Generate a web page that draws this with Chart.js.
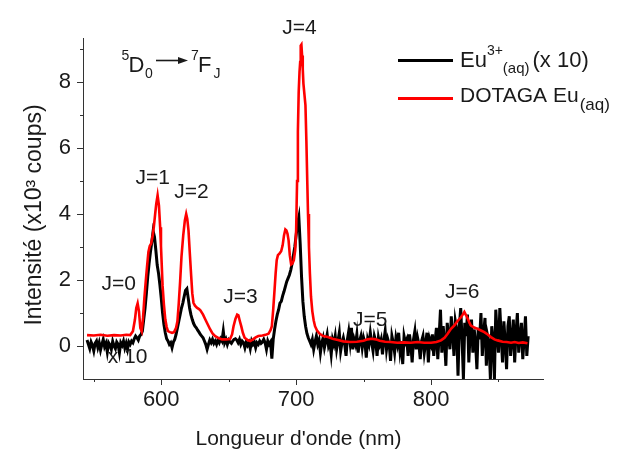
<!DOCTYPE html>
<html><head><meta charset="utf-8">
<script src="https://cdn.jsdelivr.net/npm/chart.js@4.4.1/dist/chart.umd.min.js"></script>
<style>html,body{margin:0;padding:0;background:#fff}canvas{display:block}</style>
</head><body>
<canvas id="c" width="622" height="450"></canvas>
<script>
// ---- data ----
const blackStart = 545;   // nm, first wavelength of Eu3+(aq) spectrum
const blackStep = 1;      // nm between samples
const blackValues = [
0.18,0.05,-0.08,0.12,0.02,-0.15,0.08,0.15,-0.05,0.1,
-0.12,0.05,0.2,-0.02,0.08,-0.18,0.1,0.03,-0.1,0.14,
0.0,-0.08,0.12,0.05,-0.2,0.1,0.02,0.15,-0.06,0.08,
-0.1,0.12,0.05,0.15,0.1,0.22,0.3,0.25,0.18,0.3,
0.35,0.45,0.8,1.15,1.6,2.1,2.5,2.85,3.15,3.48,
3.3,2.9,2.45,2.2,1.85,1.45,1.0,0.65,0.4,0.22,
0.15,0.05,0.1,-0.05,0.12,0.2,0.35,0.55,0.75,0.95,
1.15,1.3,1.5,1.68,1.73,1.45,1.15,0.95,0.8,0.68,
0.6,0.55,0.48,0.42,0.35,0.3,0.25,0.15,0.05,-0.1,
0.05,0.18,0.1,0.2,0.08,0.15,0.05,0.18,0.1,0.22,
0.15,0.45,0.1,0.2,0.05,0.18,0.12,0.08,0.15,0.2,
0.22,0.18,0.1,0.2,0.05,0.15,0.1,-0.05,0.12,0.02,
0.1,-0.08,0.15,0.05,0.12,-0.05,0.1,0.05,0.15,0.08,
0.12,0.2,0.1,-0.1,0.15,0.05,0.12,-0.38,0.2,0.5,
0.75,0.95,1.1,1.3,1.35,1.52,1.65,1.8,1.95,2.05,
2.15,2.3,2.5,2.75,3.0,3.35,3.7,3.9,3.1,2.1,
1.35,0.9,0.6,0.38,0.25,0.15,0.05,0.2,-0.1,0.12,
0.3,0.05,0.18,-0.2,0.1,0.25,-0.05,0.15,0.35,0.0,
0.12,-0.25,0.2,0.05,0.3,-0.1,0.15,0.4,-0.15,0.1,
0.25,0.05,-0.3,0.2,0.45,0.1,0.55,-0.1,0.2,0.05,
0.35,-0.2,0.15,0.3,-0.05,0.25,0.1,-0.35,0.2,0.05,
0.4,0.1,-0.15,0.3,0.15,-0.3,0.25,0.05,0.2,-0.25,
0.15,0.45,-0.1,0.2,0.05,-0.45,0.3,0.1,-0.2,0.25,
0.05,0.4,-0.15,0.15,-0.55,0.3,0.1,0.2,-0.3,0.35,
0.05,-0.5,0.2,0.45,-0.1,0.25,0.05,-0.4,0.15,0.3,
-0.2,0.1,0.4,-0.5,0.2,0.05,0.35,-0.3,0.15,0.55,
-0.4,0.3,1.1,-0.2,0.6,0.15,-0.6,0.7,0.3,-0.1,
0.9,0.4,-0.3,0.75,0.5,-0.9,0.6,1.15,0.2,-1.0,
0.7,0.3,0.95,-0.5,0.4,0.8,-0.2,0.5,0.1,-0.7,
0.55,0.2,1.0,-0.3,0.4,0.85,-0.6,0.3,0.1,-1.0,
0.6,0.2,-1.0,1.1,0.4,-0.2,1.15,0.3,-0.5,0.75,
0.1,-0.7,0.6,0.9,-0.3,0.2,0.8,-0.5,0.4,1.0,
-0.2,0.3,0.7,-0.4,0.2,0.9,-0.3,0.3
];
const redWavelengths = [
545,550,555,560,565,570,574,577,579,580.5,
581.5,582.5,583.5,584.5,585.5,586.5,587.5,588.5,589.5,590.5,
591.5,592.5,593.5,594.5,595.5,596.3,597.3,598.3,599.2,599.8,
601,602,603,604,605,606.5,608,609.5,611,612,
613,614,615,616.3,617.5,618.5,619.3,620.2,621.2,622.2,
623,623.9,625,626.4,628,629,631,632.6,634.5,636.3,
638,640,642.5,645,648,651,652.5,653.6,655,656.3,
657.2,658.3,659.3,660.5,661.8,664,666,668,670,672,
675,678,679.5,681,682,683,684,684.8,685.6,686.5,
687.6,688.9,690,691,692,692.8,693.6,694.4,695.3,696.3,
697.3,698.3,699.3,700,700.7,701.3,701.9,702.5,703,703.4,
703.9,704.4,704.9,705.4,706.2,706.9,707.6,708.3,708.8,709.5,
710.2,711,712,713,714,715.5,717.5,720,723.5,727,
731,735,740,745,750,753,756,759,762,766,
770,775,780,785,790,795,800,804,807.4,810,
812.3,814.8,817.3,819.5,822.2,823.5,824.7,826,827.2,828.5,
829.6,832,834.6,837,839.5,842,844.4,847,849.4,853,
856,859.3,862,865,868,871.5
];
const redValues = [
.33,.32,.34,.31,.33,.32,.34,.33,.45,.8,
1.15,1.29,1.05,.55,.45,.85,1.45,1.95,2.42,2.85,
3.03,3.1,3.3,3.6,4.0,4.3,4.56,4.25,3.6,3.03,
1.82,1.25,.81,.58,.45,.42,.4,.42,.55,.75,
1.3,1.95,2.7,3.35,3.8,4.0,3.85,3.5,2.8,2.12,
1.6,1.31,1.22,1.16,1.12,1.08,.95,.81,.65,.5,
.38,.3,.24,.2,.2,.21,.35,.6,.82,.95,
.93,.75,.6,.4,.25,.18,.15,.2,.26,.3,
.32,.35,.37,.48,.6,1.1,1.7,2.2,2.6,2.75,
2.8,2.87,3.05,3.35,3.53,3.5,3.4,3.2,2.75,2.47,
2.5,2.6,2.9,3.5,5.0,6.5,7.7,8.3,8.6,9.1,
9.13,8.8,8.4,7.95,7.6,7.3,6.2,4.9,4.0,3.0,
2.2,1.5,1.05,.78,.6,.47,.37,.3,.27,.22,
.18,.14,.12,.13,.16,.2,.22,.2,.16,.13,
.12,.1,.11,.1,.12,.1,.1,.12,.17,.25,
.37,.52,.62,.75,.87,.95,1.03,.93,.83,.7,
.62,.56,.52,.47,.42,.35,.27,.2,.17,.13,
.12,.1,.12,.09,.11,.08
];
const xMajorTicks = [600, 700, 800];
const xMinorTicks = [550, 650, 750, 850];
const yMajorTicks = [0, 2, 4, 6, 8];
const yMinorTicks = [1, 3, 5, 7, 9];
const peakLabels = ['J=0','J=1','J=2','J=3','J=4','J=5','J=6','x 10'];
const peakLabelWl = [568.4, 593.6, 622.4, 658.7, 702.4, 755, 823.2, 575];
const peakLabelVal = [1.69, 4.92, 4.47, 1.29, 9.46, 0.6, 1.44, -0.52];
const xTitle = "Longueur d'onde (nm)";
const yTitle = "Intensité (x10³ coups)";

// ---- drawing ----
const FONT = "'Liberation Sans', Arial, sans-serif";
const TXT = '#1a1a1a';
const AX = '#333333';

function rich(ctx, x, y, parts) {
  let cx = x;
  for (const p of parts) {
    ctx.font = p.size + 'px ' + FONT;
    ctx.textAlign = 'left';
    ctx.textBaseline = 'alphabetic';
    ctx.fillText(p.t, cx, y + (p.dy || 0));
    cx += ctx.measureText(p.t).width + (p.gap || 0);
  }
  return cx;
}

const decor = {
  id: 'decor',
  afterDraw(chart) {
    const ctx = chart.ctx, xs = chart.scales.x, ys = chart.scales.y, ca = chart.chartArea;
    ctx.save();
    // ticks (outward)
    ctx.strokeStyle = AX; ctx.lineWidth = 1;
    ctx.beginPath();
    for (const v of xMajorTicks) { const px = Math.round(xs.getPixelForValue(v)) + 0.5; ctx.moveTo(px, ca.bottom); ctx.lineTo(px, ca.bottom + 6); }
    for (const v of xMinorTicks) { const px = Math.round(xs.getPixelForValue(v)) + 0.5; ctx.moveTo(px, ca.bottom); ctx.lineTo(px, ca.bottom + 3); }
    for (const v of yMajorTicks) { const py = Math.round(ys.getPixelForValue(v)) + 0.5; ctx.moveTo(ca.left, py); ctx.lineTo(ca.left - 6, py); }
    for (const v of yMinorTicks) { const py = Math.round(ys.getPixelForValue(v)) + 0.5; ctx.moveTo(ca.left, py); ctx.lineTo(ca.left - 3, py); }
    ctx.stroke();

    ctx.fillStyle = TXT;
    // axis titles
    ctx.font = '21px ' + FONT; ctx.textAlign = 'center'; ctx.textBaseline = 'alphabetic';
    ctx.fillText(xTitle, 298.5, 445);
    ctx.save();
    ctx.translate(41, 215); ctx.rotate(-Math.PI / 2);
    ctx.font = '23px ' + FONT;
    ctx.fillText(yTitle, 0, 0);
    ctx.restore();

    // peak labels
    ctx.font = '21px ' + FONT; ctx.textAlign = 'center';
    peakLabels.forEach((s, i) => {
      ctx.fillText(s, xs.getPixelForValue(peakLabelWl[i]), ys.getPixelForValue(peakLabelVal[i]));
    });

    // transition label 5D0 -> 7FJ
    rich(ctx, 121.5, 60, [{t:'5', size:14}]);
    rich(ctx, 128.5, 71.7, [{t:'D', size:22}]);
    rich(ctx, 145, 78, [{t:'0', size:14}]);
    ctx.strokeStyle = TXT; ctx.lineWidth = 1.6;
    ctx.beginPath(); ctx.moveTo(156, 60.5); ctx.lineTo(180, 60.5); ctx.stroke();
    ctx.beginPath(); ctx.moveTo(188, 60.5); ctx.lineTo(178, 57); ctx.lineTo(178, 64); ctx.closePath(); ctx.fill();
    rich(ctx, 191, 60, [{t:'7', size:14}]);
    rich(ctx, 198, 71.7, [{t:'F', size:22}]);
    rich(ctx, 213.5, 78, [{t:'J', size:14}]);

    // legend
    ctx.lineWidth = 3;
    ctx.strokeStyle = '#000000';
    ctx.beginPath(); ctx.moveTo(398, 60.5); ctx.lineTo(453, 60.5); ctx.stroke();
    ctx.strokeStyle = '#ff0000';
    ctx.beginPath(); ctx.moveTo(398, 98.5); ctx.lineTo(453, 98.5); ctx.stroke();
    ctx.fillStyle = TXT;
    rich(ctx, 460, 67, [{t:'Eu', size:22}, {t:'3+', size:14, dy:-12}, {t:'(aq)', size:15, dy:6, gap:3}, {t:'(x 10)', size:22}]);
    rich(ctx, 460, 102, [{t:'DOTAGA Eu', size:21, gap:1}, {t:'(aq)', size:17, dy:8}]);
    ctx.restore();
  }
};

const blackData = blackValues.map((v, i) => ({x: blackStart + i * blackStep, y: v}));
const redData = redWavelengths.map((w, i) => ({x: w, y: redValues[i]}));

new Chart(document.getElementById('c'), {
  type: 'line',
  data: {
    datasets: [
      { label: 'Eu3+(aq) (x 10)', data: blackData, borderColor: '#000000', borderWidth: 3, pointRadius: 0, tension: 0, order: 2 },
      { label: 'DOTAGA Eu(aq)', data: redData, borderColor: '#ff0000', borderWidth: 2.6, pointRadius: 0, tension: 0, order: 1 }
    ]
  },
  options: {
    responsive: false, animation: false, devicePixelRatio: 1,
    layout: { padding: { top: 38, right: 79, left: 0, bottom: 0 } },
    plugins: { legend: { display: false }, tooltip: { enabled: false } },
    scales: {
      x: {
        type: 'linear', min: 542, max: 883,
        afterBuildTicks: s => { s.ticks = xMajorTicks.map(v => ({value: v})); },
        afterFit: s => { s.height = 71; },
        grid: { display: true, drawOnChartArea: false, drawTicks: true, tickLength: 6, tickColor: 'rgba(0,0,0,0)' },
        border: { display: true, color: AX, width: 1 },
        ticks: { color: TXT, font: { family: FONT, size: 22 }, padding: 2, maxRotation: 0, callback: v => String(v) }
      },
      y: {
        type: 'linear', min: -1, max: 9.33,
        afterBuildTicks: s => { s.ticks = yMajorTicks.map(v => ({value: v})); },
        afterFit: s => { s.width = 83; },
        grid: { display: true, drawOnChartArea: false, drawTicks: true, tickLength: 6, tickColor: 'rgba(0,0,0,0)' },
        border: { display: true, color: AX, width: 1 },
        ticks: { color: TXT, font: { family: FONT, size: 22 }, padding: 6, callback: v => String(v) }
      }
    }
  },
  plugins: [decor]
});
</script>
</body></html>
